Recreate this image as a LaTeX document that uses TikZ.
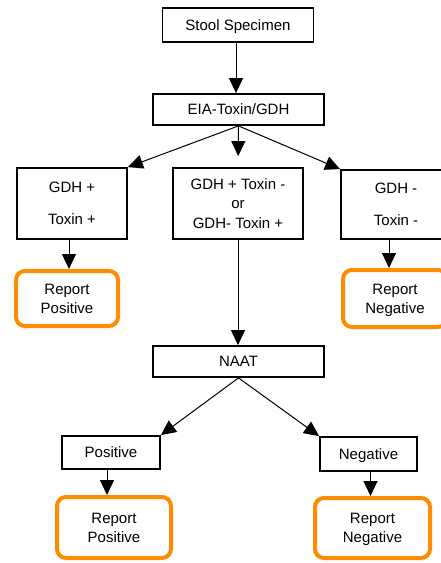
\documentclass[tikz,border=0pt]{standalone}
\usepackage{fontspec}
\setmainfont{Liberation Sans}
\usetikzlibrary{arrows.meta}

\begin{document}
\begin{tikzpicture}[x=1pt,y=-1pt,font=\fontsize{15}{19.3}\selectfont,
  box/.style={draw,line width=1.8pt,align=center,inner sep=0pt,text depth=0pt},
  report/.style={draw=orange!90!yellow,line width=4pt,rounded corners=9pt,align=center,inner sep=0pt,text depth=0pt},
  arr/.style={-{Triangle[length=15pt,width=14pt]},line width=1pt}]
  \useasboundingbox (0,0) rectangle (441,563);
  \begin{scope}
  \clip (0,0) rectangle (441,563);
  \node[box,minimum width=151,minimum height=34] (stool) at (238,25) {Stool Specimen};
  \node[box,minimum width=171,minimum height=31] (eia) at (238.5,109.5) {EIA-Toxin/GDH};
  \node[box,minimum width=110,minimum height=71] (gdhpos) at (72,203.5) {GDH +\\[13pt] Toxin +};
  \node[box,minimum width=130,minimum height=71] (mixed) at (238,203.5) {GDH + Toxin -\\ or\\ GDH- Toxin +};
  \node[box,minimum width=110,minimum height=69] (gdhneg) at (396,204.5) {GDH -\\[13pt] Toxin -};
  \node[report,minimum width=102,minimum height=55] (reppos) at (67,298.5) {Report\\ Positive};
  \node[report,minimum width=104,minimum height=57] (repneg) at (395,298.5) {Report\\ Negative};
  \node[box,minimum width=171,minimum height=31] (naat) at (238.5,361.5) {NAAT};
  \node[box,minimum width=98,minimum height=33] (pos) at (111,452.5) {Positive};
  \node[box,minimum width=97,minimum height=34] (neg) at (368.5,454) {Negative};
  \node[report,minimum width=114,minimum height=61] (naatpos) at (114,527.5) {Report\\ Positive};
  \node[report,minimum width=115,minimum height=60] (naatneg) at (372.5,528) {Report\\ Negative};
  \end{scope}

  \draw[arr] (stool.south) ++(-2,0) coordinate (st) -- (st |- eia.north);
  \draw[arr] (eia.south) -- (gdhpos.north east);
  \draw[arr,shorten >=11pt] (eia.south) -- (mixed.north);
  \draw[arr] (eia.south) -- (gdhneg.north west);
  \draw[arr] (gdhpos.south) ++(-3,0) coordinate (gp) -- (gp |- reppos.north);
  \draw[arr] (gdhneg.south) ++(-7,0) coordinate (gn) -- (gn |- repneg.north);
  \draw[arr] (mixed.south) -- (mixed.south |- naat.north);
  \draw[arr] (naat.south) -- (pos.north east);
  \draw[arr] (naat.south) -- (neg.north west);
  \draw[arr] (pos.south) ++(-4,0) coordinate (ps) -- (ps |- naatpos.north);
  \draw[arr] (neg.south) ++(2,0) coordinate (ns) -- (ns |- naatneg.north);
\end{tikzpicture}
\end{document}
